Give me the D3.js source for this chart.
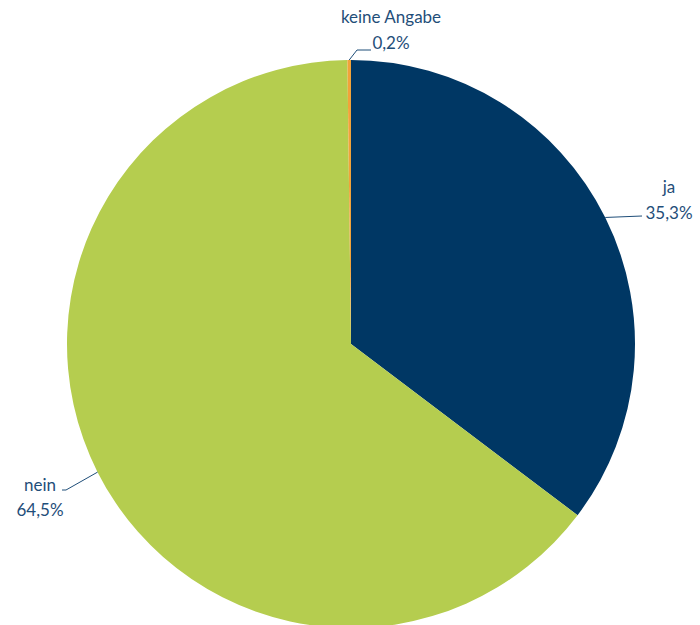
<!DOCTYPE html>
<html><head><meta charset="utf-8">
<script src="https://cdn.jsdelivr.net/npm/d3@7"></script>
<style>body{margin:0;background:#fff}svg{display:block}</style>
</head><body>
<script>
const categories = ["ja", "nein", "keine Angabe"];
const values = [35.3, 64.5, 0.2];
const valueLabels = ["35,3%", "64,5%", "0,2%"];
const colors = ["#003764", "#b5cd4f", "#f2a33a"];

const W = 700, H = 625, cx = 351, cy = 344, R = 284;
const svg = d3.select("body").append("svg").attr("width", W).attr("height", H);
const g = svg.append("g").attr("transform", `translate(${cx},${cy})`);
const pie = d3.pie().sort(null).value(d => d.v);
const data = categories.map((c, i) => ({c, v: values[i], l: valueLabels[i], col: colors[i]}));
const arcs = pie(data);
const arc = d3.arc().innerRadius(0).outerRadius(R);
g.selectAll("path").data(arcs).join("path").attr("d", arc).attr("fill", d => d.data.col);

const txtCol = "#1f4e79";
const font = "Lato, 'Open Sans', sans-serif";
// label placements (relative to centre)
const labelPos = [
  {x: 669, y1: 193, y2: 219, lead: [[0,0],[642,216]]},
  {x: 40, y1: 491, y2: 516, lead: [[0,0],[66,490],[62,490]]},
  {x: 391, y1: 23, y2: 49, lead: [[0,0],[357,50],[371,50]]}
];
arcs.forEach((a, i) => {
  const p = labelPos[i];
  const mid = (a.startAngle + a.endAngle) / 2;
  const ex = cx + Math.sin(mid) * R, ey = cy - Math.cos(mid) * R;
  const pts = [[ex, ey]].concat(p.lead.slice(1));
  svg.append("path").attr("d", d3.line()(pts)).attr("fill", "none")
    .attr("stroke", txtCol).attr("stroke-width", 1);
  svg.append("text").attr("x", p.x).attr("y", p.y1).attr("text-anchor", "middle")
    .attr("font-family", font).attr("font-size", 17).attr("fill", txtCol).text(a.data.c);
  svg.append("text").attr("x", p.x).attr("y", p.y2).attr("text-anchor", "middle")
    .attr("font-family", font).attr("font-size", 17).attr("fill", txtCol).text(a.data.l);
});
</script>
</body></html>
